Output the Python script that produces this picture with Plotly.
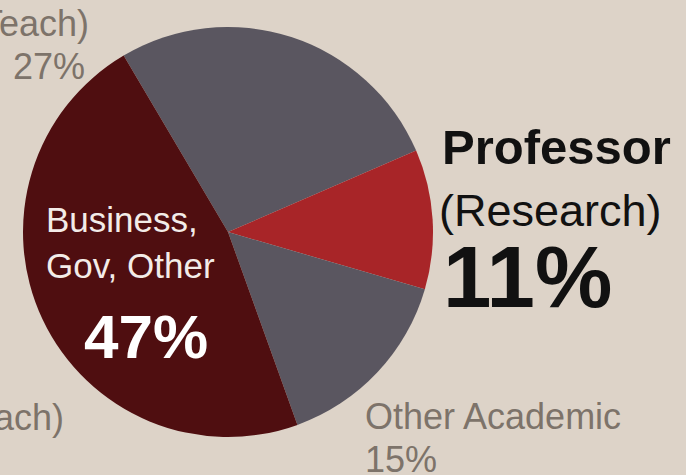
import plotly.graph_objects as go

# Career outcomes shares
categories = ["Professor (Teach)", "Professor (Research)", "Other Academic", "Business, Gov, Other"]
shares = [27, 11, 15, 47]
colors = ["#5a5660", "#a82528", "#5a5660", "#4f0e10"]

W, H = 686, 475
BG = "#ddd3c8"
LABEL_GRAY = "#7d736a"

# pie placement in pixels (center and radius)
cx, cy, r = 228, 232, 205


def px(x):
    return x / W


def py(y):
    return 1 - y / H


fig = go.Figure(
    go.Pie(
        labels=categories,
        values=shares,
        sort=False,
        direction="clockwise",
        rotation=-30.6,
        marker=dict(colors=colors, line=dict(width=0)),
        textinfo="none",
        hoverinfo="skip",
        showlegend=False,
        domain=dict(x=[px(cx - r), px(cx + r)], y=[py(cy + r), py(cy - r)]),
    )
)

REG = "Liberation Sans, Arial, sans-serif"


def note(text, x, y, size, color, family=REG, xanchor="left", yanchor="middle", align="left"):
    fig.add_annotation(
        text=text, x=px(x), y=py(y), xref="paper", yref="paper",
        xanchor=xanchor, yanchor=yanchor, align=align, showarrow=False,
        font=dict(size=size, color=color, family=family),
    )


# Professor (Research)
note("<b>Professor</b>", 440, 147, 49, "#111111")
note("(Research)", 437, 210, 45, "#111111")
note(f"<b>{shares[1]}%</b>", 441, 276, 87, "#111111")

# Business, Gov, Other
note("Business,<br>Gov, Other", 44, 243, 35, "#f3ece8", align="left")
note(f"<b>{shares[3]}%</b>", 146, 336, 62, "#ffffff", xanchor="center")

# Other Academic
note("Other Academic", 363, 416, 36, LABEL_GRAY)
note(f"{shares[2]}%", 363, 459, 36, LABEL_GRAY)

# Professor (Teach)
note("(Teach)", 91, 24, 36, LABEL_GRAY, xanchor="right")
note(f"{shares[0]}%", 87, 67, 36, LABEL_GRAY, xanchor="right")
note("(Teach)", 66, 417, 36, LABEL_GRAY, xanchor="right")

fig.update_layout(
    width=W, height=H,
    margin=dict(l=0, r=0, t=0, b=0),
    paper_bgcolor=BG, plot_bgcolor=BG,
)

fig.write_html("out.html")
